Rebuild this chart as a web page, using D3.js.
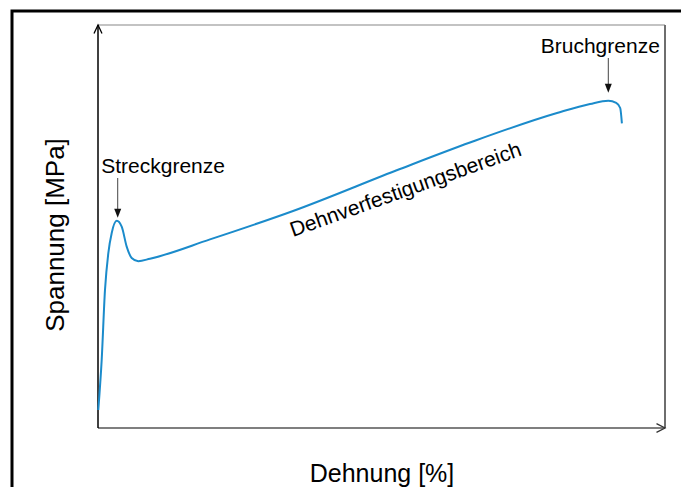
<!DOCTYPE html>
<html>
<head>
<meta charset="utf-8">
<script src="https://cdn.jsdelivr.net/npm/d3@7"></script>
<style>
  html, body { margin: 0; padding: 0; background: #fff; }
  svg { display: block; }
  text { font-family: "Liberation Sans", Arial, sans-serif; fill: #000; }
</style>
</head>
<body>
<svg id="chart" width="681" height="487"></svg>
<script>
// Strain (% of axis length) and stress (% of axis height)
const strain = [0.05, 0.65, 1.23, 1.82, 2.42, 3.30, 4.18, 5.06, 5.94, 7.11, 9.17, 19.75, 34.4, 53.26, 65.61, 80.95, 86.77, 90.0, 91.4, 92.1, 92.4];
const stress = [4.47, 16.9, 34.2, 43.4, 48.4, 51.4, 49.95, 45.0, 42.2, 41.4, 42.0, 46.8, 53.85, 64.27, 70.84, 78.16, 80.4, 81.2, 80.7, 79.4, 75.6];
const xLabel = "Dehnung [%]";
const yLabel = "Spannung [MPa]";
const annotations = ["Streckgrenze", "Bruchgrenze"];
const regionLabel = "Dehnverfestigungsbereich";
const yieldIndex = 5;
const breakIndex = 17;

const data = strain.map((s, i) => ({ x: s, y: stress[i] }));

const svg = d3.select("#chart");
const x = d3.scaleLinear().domain([0, 100]).range([98, 665]);
const y = d3.scaleLinear().domain([0, 100]).range([428, 25]);

// outer frame
svg.append("rect").attr("x", 12).attr("y", 11).attr("width", 800).attr("height", 600)
  .attr("fill", "none").attr("stroke", "#000").attr("stroke-width", 3);

const x0 = x.range()[0], x1 = x.range()[1], y0 = y.range()[0], y1 = y.range()[1];

// top and right plot border
svg.append("line").attr("x1", x0).attr("x2", x1).attr("y1", y1).attr("y2", y1)
  .attr("stroke", "#888").attr("stroke-width", 1.2);
svg.append("line").attr("x1", x1).attr("x2", x1).attr("y1", y1).attr("y2", y0)
  .attr("stroke", "#6e6e6e").attr("stroke-width", 2);

// x axis with open arrow
svg.append("line").attr("x1", x0).attr("x2", x1).attr("y1", y0).attr("y2", y0)
  .attr("stroke", "#555").attr("stroke-width", 1.5);
svg.append("path").attr("d", `M${x1-8.5},${y0-4.3}L${x1},${y0}L${x1-8.5},${y0+4.3}`)
  .attr("fill", "none").attr("stroke", "#333").attr("stroke-width", 1.3);

// y axis with open arrow
svg.append("line").attr("x1", x0).attr("x2", x0).attr("y1", y0).attr("y2", y1)
  .attr("stroke", "#000").attr("stroke-width", 1.5);
svg.append("path").attr("d", `M${x0-4},${y1+8.5}L${x0},${y1}L${x0+4},${y1+8.5}`)
  .attr("fill", "none").attr("stroke", "#000").attr("stroke-width", 1.3);

// curve
const line = d3.line().x(d => x(d.x)).y(d => y(d.y)).curve(d3.curveMonotoneX);
svg.append("path").datum(data).attr("d", line)
  .attr("fill", "none").attr("stroke", "#1b8bcb").attr("stroke-width", 2);

// annotation arrows
function arrowDown(px, yTop, yTip) {
  svg.append("line").attr("x1", px).attr("x2", px).attr("y1", yTop).attr("y2", yTip - 6)
    .attr("stroke", "#444").attr("stroke-width", 1);
  svg.append("path").attr("d", `M${px-3.5},${yTip-9}L${px+3.5},${yTip-9}L${px},${yTip}Z`)
    .attr("fill", "#111");
}
const yp = data[yieldIndex], bp = data[breakIndex];
arrowDown(x(yp.x) + 1, 178, y(yp.y) - 3);
arrowDown(x(bp.x), 58, y(bp.y) - 8);

svg.append("text").attr("x", x(yp.x) - 15.5).attr("y", 172.5)
  .attr("font-size", 21).text(annotations[0]);
svg.append("text").attr("x", x(bp.x) - 8).attr("y", 52.5).attr("text-anchor", "middle")
  .attr("font-size", 21).text(annotations[1]);

// region label
svg.append("text").attr("transform", "translate(293,237) rotate(-19.6)")
  .attr("font-size", 21).text(regionLabel);

// axis titles
svg.append("text").attr("x", 382).attr("y", 482).attr("text-anchor", "middle")
  .attr("font-size", 25).text(xLabel);
svg.append("text").attr("transform", "translate(64,235) rotate(-90)").attr("text-anchor", "middle")
  .attr("font-size", 26).text(yLabel);
</script>
</body>
</html>
